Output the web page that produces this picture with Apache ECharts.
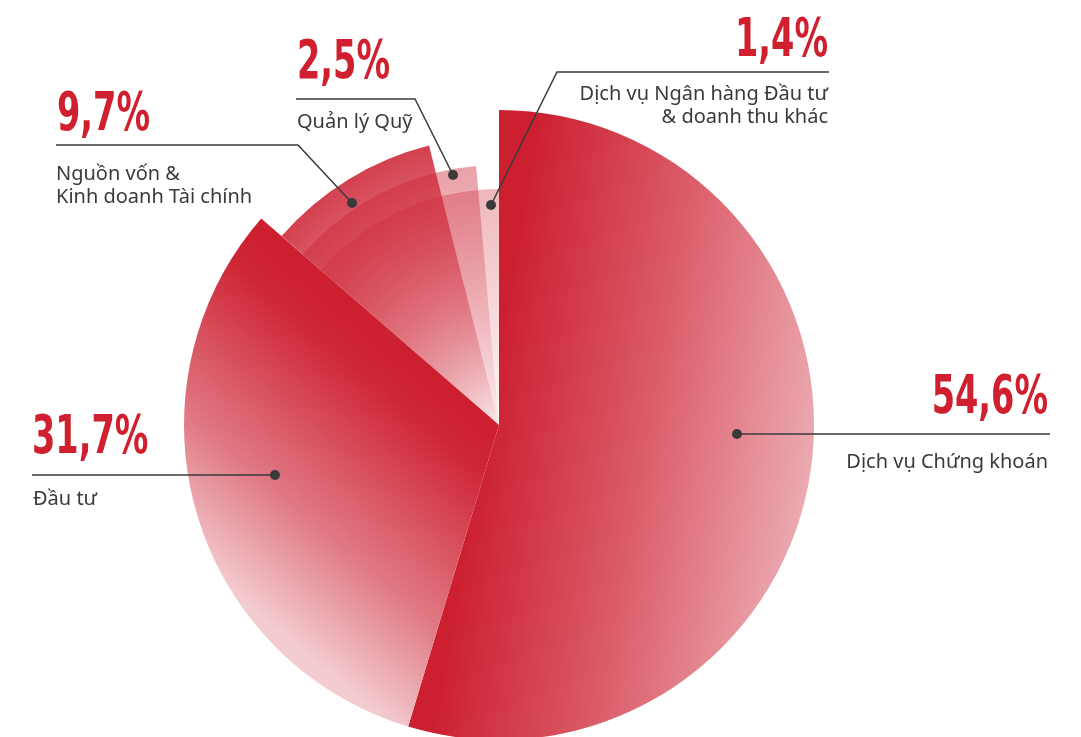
<!DOCTYPE html>
<html><head><meta charset="utf-8">
<script src="https://cdn.jsdelivr.net/npm/echarts@6/dist/echarts.min.js"></script>
<style>html,body{margin:0;padding:0;background:#fff}#c{width:1081px;height:737px}</style>
</head><body><div id="c"></div>
<script>
// ---- data ----
const categories = ['Dịch vụ Chứng khoán', 'Đầu tư', 'Nguồn vốn &\nKinh doanh Tài chính', 'Quản lý Quỹ', 'Dịch vụ Ngân hàng Đầu tư\n& doanh thu khác'];
const shares = [54.6, 31.7, 9.7, 2.5, 1.4];
const pctLabels = ['54,6%', '31,7%', '9,7%', '2,5%', '1,4%'];

// ---- layout / style ----
const CX = 499, CY = 425;
const sliceRadius = [315, 315, 288, 260, 236];
const layerAlpha = {2: 0.85, 3: 0.42, 4: 0.32};
const annotations = [
  {pct: {x: 1048, y: 399, align: 'right'}, name: {x: 1048, y: 462, align: 'right', va: 'middle'}, line: [[737,434],[1050,434]], dot: [737,434]},
  {pct: {x: 32, y: 439, align: 'left'}, name: {x: 33, y: 499, align: 'left', va: 'middle'}, line: [[32,475],[275,475]], dot: [275,475]},
  {pct: {x: 57, y: 116, align: 'left'}, name: {x: 56, y: 163, align: 'left', va: 'top'}, line: [[56,145],[298,145],[352,203]], dot: [352,203]},
  {pct: {x: 297, y: 64, align: 'left'}, name: {x: 297, y: 122, align: 'left', va: 'middle'}, line: [[296,99],[415,99],[453,175]], dot: [453,175]},
  {pct: {x: 828, y: 42, align: 'right'}, name: {x: 828, y: 83, align: 'right', va: 'top'}, line: [[829,72],[557,72],[491,205]], dot: [491,205]}
];
const PCT_FONT = 'bold 54px "Liberation Sans Narrow", "DejaVu Sans Condensed", sans-serif';
const PCT_SCALE_X = 0.69;
const NAME_FONT = '20px "Noto Sans", sans-serif';
const INK = '#3a3a3a';
const RED_TEXT = '#d0202f';

function rgba(a) { return 'rgba(204,31,48,' + a + ')'; }

const chart = echarts.init(document.getElementById('c'), null, {renderer: 'canvas'});

const transparent = 'rgba(0,0,0,0)';
function baseSeries(r, colorFn) {
  return {
    type: 'pie', silent: true, animation: false, startAngle: 90, clockwise: true,
    center: [CX, CY], radius: [0, r],
    label: {show: false}, labelLine: {show: false},
    itemStyle: {borderWidth: 0},
    data: shares.map((v, i) => ({value: v, name: categories[i], itemStyle: {color: colorFn(i), borderWidth: 0}}))
  };
}

const series = [];
// translucent stacked layers for the small slices
[2, 3, 4].forEach(k => {
  const r = sliceRadius[k];
  const grad = new echarts.graphic.RadialGradient(CX, CY, r, [
    {offset: 0, color: rgba(0.03)},
    {offset: 1, color: rgba(layerAlpha[k])}
  ], true);
  series.push(baseSeries(r, i => (i >= 2 && i <= k) ? grad : transparent));
});
// main two slices
const g0 = new echarts.graphic.LinearGradient(533, 130, 858, 186, [
  {offset: 0, color: '#cc1f30'}, {offset: 0.5, color: '#db5d69'}, {offset: 1, color: '#eba9b0'}
], true);
const g1 = new echarts.graphic.LinearGradient(499, 425, 306, 655, [
  {offset: 0, color: '#cc1f30'}, {offset: 0.15, color: '#cf2535'}, {offset: 0.65, color: '#e07a84'}, {offset: 1, color: '#f3ccd0'}
], true);
series.push(baseSeries(sliceRadius[0], i => i === 0 ? g0 : (i === 1 ? g1 : transparent)));

const graphic = [];
annotations.forEach((a, i) => {
  graphic.push({type: 'polyline', silent: true, z: 10, shape: {points: a.line}, style: {stroke: INK, lineWidth: 1.5, fill: null}});
  graphic.push({type: 'circle', silent: true, z: 11, shape: {cx: a.dot[0], cy: a.dot[1], r: 5}, style: {fill: INK}});
  graphic.push({type: 'text', silent: true, z: 12, x: a.pct.x, y: a.pct.y, scaleX: PCT_SCALE_X,
    style: {text: pctLabels[i], x: 0, y: 0, font: PCT_FONT, fill: RED_TEXT, align: a.pct.align, verticalAlign: 'middle'}});
  graphic.push({type: 'text', silent: true, z: 12, style: {text: categories[i], x: a.name.x, y: a.name.y, font: NAME_FONT, fill: INK, align: a.name.align, verticalAlign: a.name.va, lineHeight: 23}});
});

chart.setOption({animation: false, series: series, graphic: graphic});
</script>
</body></html>
